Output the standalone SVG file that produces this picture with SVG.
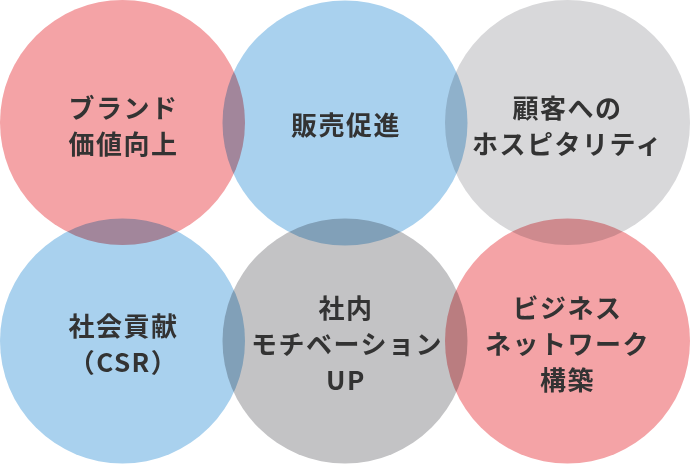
<svg xmlns="http://www.w3.org/2000/svg" width="690" height="464" viewBox="0 0 690 464">
<style>
.c{mix-blend-mode:multiply}
.red{fill:#F4A3A6}
.blue{fill:#A9D1EE}
.gl{fill:#D8D8DA}
.gd{fill:#C3C3C5}
text{font-family:"Noto Sans CJK JP","Noto Sans",sans-serif;font-weight:bold;font-size:26px;fill:#333333;text-anchor:middle;letter-spacing:1.5px}
</style>
<rect width="690" height="464" fill="#FFFFFF"/>
<g id="nodes" style="isolation:isolate">
<g id="n1"><circle class="c red" cx="122.5" cy="122.5" r="122.5"/></g>
<g id="n2"><circle class="c blue" cx="345" cy="123" r="122.5"/></g>
<g id="n3"><circle class="c gl" cx="567.5" cy="122.5" r="122.5"/></g>
<g id="n4"><circle class="c blue" cx="122.5" cy="341" r="122.5"/></g>
<g id="n5"><circle class="c gd" cx="345" cy="341" r="122.5"/></g>
<g id="n6"><circle class="c red" cx="567.5" cy="341" r="122.5"/></g>
</g>
<g id="labels">
<text x="123.5" y="118">ブランド</text>
<text x="123.5" y="154">価値向上</text>
<text x="346" y="135">販売促進</text>
<text x="567.5" y="118">顧客への</text>
<text x="567.5" y="154">ホスピタリティ</text>
<text x="123.5" y="336">社会貢献</text>
<text x="123.5" y="372">（CSR）</text>
<text x="346" y="318">社内</text>
<text x="347" y="354">モチベーション</text>
<text x="346" y="390">UP</text>
<text x="567.5" y="318">ビジネス</text>
<text x="567.5" y="354">ネットワーク</text>
<text x="567.5" y="390">構築</text>
</g>
<g id="connectors"></g>
</svg>
